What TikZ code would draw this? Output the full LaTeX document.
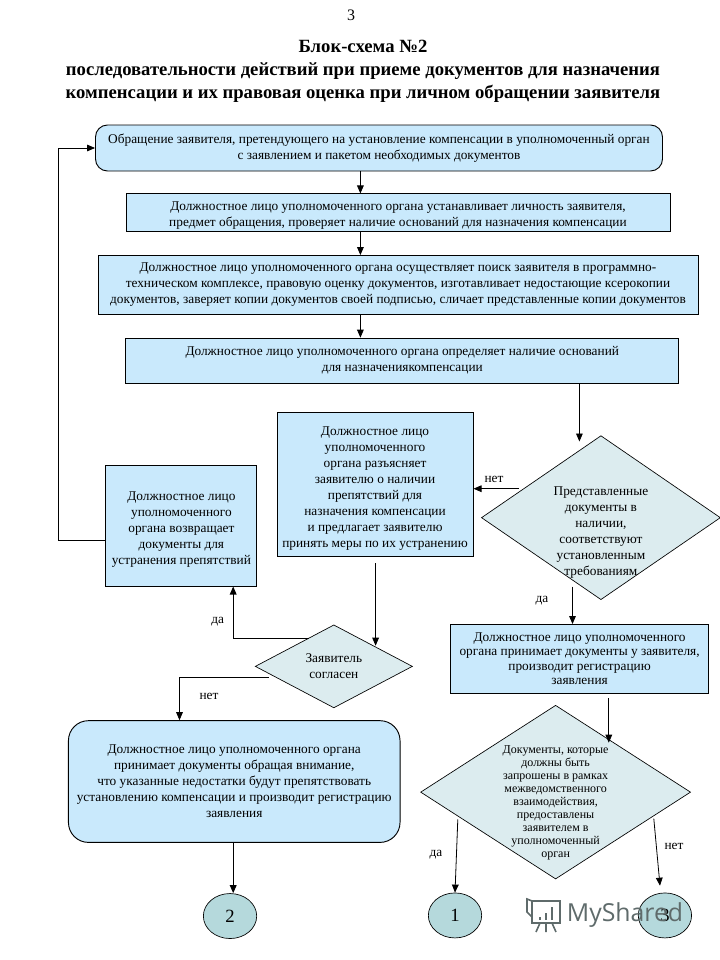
\documentclass[tikz,border=0pt]{standalone}
\usepackage{fontspec}
\setmainfont{Liberation Serif}
\newfontfamily\markfont{Open Sans}
\usetikzlibrary{shapes.geometric, arrows.meta, positioning}
\definecolor{boxblue}{HTML}{C9E9FC}
\definecolor{decgray}{HTML}{DCECEF}
\definecolor{circteal}{HTML}{B5D9DC}
\definecolor{markgray}{HTML}{5F6B6B}
\newcommand{\topgap}[1]{\rule{0pt}{#1}}

\begin{document}
\begin{tikzpicture}[x=0.75pt, y=-0.75pt,
	font=\fontsize{10}{12}\selectfont,
	block/.style = {rectangle, draw, fill=boxblue, align=center, inner sep=0pt, line width=0.7pt},
	round_block/.style = {block, rounded corners=9pt},
	diamond_dec/.style = {diamond, draw, fill=decgray, inner sep=0pt, line width=0.5pt},
	dec_text/.style = {align=center, inner sep=0pt},
	circ/.style = {ellipse, draw, fill=circteal, inner sep=0pt, minimum width=40pt, minimum height=33.75pt, font=\fontsize{14}{16}\selectfont, line width=0.5pt},
	line/.style = {-{Triangle[length=6pt, width=5pt]}, line width=0.6pt},
	lbl/.style = {inner sep=0pt}
	]
	\useasboundingbox (0,0) rectangle (720,960);

	% --- Titulo ---
	\node[lbl, font=\fontsize{12}{14}\selectfont] (page_num) at (351,15) {3};
	\node[align=center, inner sep=0pt, font=\fontsize{14}{17.25}\bfseries\selectfont] (title) at (363,71) {Блок-схема №2\\
		последовательности действий при приеме документов для назначения\\
		компенсации и их правовая оценка при личном обращении заявителя};

	% --- Fila superior ---
	\node[round_block, minimum width=425.25pt, minimum height=34.5pt] (appeal) at (379,148) {Обращение заявителя, претендующего на установление компенсации  в уполномоченный орган\\ с заявлением и пакетом необходимых документов};
	\node[block, minimum width=408pt, minimum height=28.5pt, below=16.5pt of appeal, xshift=14.25pt] (identify) {\topgap{10pt}Должностное лицо уполномоченного органа устанавливает личность заявителя,\\ предмет обращения, проверяет наличие оснований для назначения компенсации};
	\node[block, minimum width=450pt, minimum height=44.25pt, below=17pt of identify] (search) {Должностное лицо уполномоченного органа осуществляет поиск заявителя в программно-\\ техническом комплексе, правовую оценку документов, изготавливает недостающие ксерокопии\\ документов, заверяет копии документов своей подписью, сличает представленные копии документов};
	\node[block, minimum width=414.5pt, minimum height=33.75pt, below=17pt of search, xshift=3.2pt] (grounds) {Должностное лицо уполномоченного органа определяет наличие оснований\\ для назначениякомпенсации};

	% --- Fila intermedia ---
	\node[diamond_dec, minimum width=179.25pt, minimum height=123pt, below=38.8pt of grounds, xshift=149pt] (docs_check) {};
	\node[dec_text] (docs_text) at ([yshift=-11.25pt]docs_check.center) {Представленные\\ документы в\\ наличии,\\ соответствуют\\ установленным\\ требованиям};
	\node[block, minimum width=147pt, minimum height=107.6pt, left=5.7pt of docs_check, yshift=25pt] (explain) {\topgap{13pt}Должностное лицо\\ уполномоченного\\ органа разъясняет\\ заявителю о наличии\\ препятствий для\\ назначения компенсации\\ и предлагает  заявителю\\ принять меры по их устранению};
	\node[block, minimum width=113.25pt, minimum height=90.75pt, left=14.4pt of explain, yshift=-30.9pt] (give_back) {\topgap{13pt}Должностное лицо\\ уполномоченного\\ органа возвращает\\ документы для\\ устранения препятствий};
	\node[block, minimum width=193pt, minimum height=51.5pt, below=18pt of docs_check, xshift=-16pt, font=\fontsize{10}{10.8}\selectfont] (accept) {Должностное лицо уполномоченного\\ органа принимает документы у заявителя,\\ производит регистрацию\\ заявления};

	% --- Fila inferior ---
	\node[diamond_dec, minimum width=117.9pt, minimum height=62.25pt, below=51pt of explain, xshift=-30.9pt] (agree_check) {};
	\node[dec_text] (agree_text) at (agree_check.center) {Заявитель\\ согласен};
	\node[round_block, rounded corners=15pt, minimum width=248.7pt, minimum height=91.3pt, below=9pt of agree_check, xshift=-74.7pt] (warn) {Должностное лицо уполномоченного органа\\ принимает документы  обращая внимание,\\ что указанные недостатки будут  препятствовать\\ установлению компенсации и производит регистрацию\\ заявления};
	\node[diamond_dec, minimum width=202.5pt, minimum height=130.3pt, below=8.5pt of accept, xshift=-18pt] (inter_check) {};
	\node[dec_text, font=\fontsize{9}{9.75}\selectfont] (inter_text) at ([yshift=-8.25pt]inter_check.center) {Документы, которые\\ должны быть\\ запрошены в рамках\\ межведомственного\\ взаимодействия,\\ предоставлены\\ заявителем в\\ уполномоченный\\ орган};

	\node[circ, below=37.75pt of warn, xshift=-3.15pt] (circ_two) {2};
	\node[circ, below=9.95pt of inter_check, xshift=-75.45pt] (circ_one) {1};
	\node[circ, below=9.95pt of inter_check, xshift=82pt] (circ_three) {3};

	% --- Extremos libres ---
	\coordinate (spine) at (360.4,0);
	\coordinate (grounds_end) at (579.4,441.5);
	\coordinate (no_start) at (519,488.7);
	\coordinate (explain_start) at (375.6,563);
	\coordinate (agree_end) at (375.6,645.7);
	\coordinate (yes_start) at (308.5,638.7);
	\coordinate (yes_corner) at (233.2,638.7);
	\coordinate (no2_start) at (268.6,677);
	\coordinate (no2_corner) at (179.5,677);
	\coordinate (return_corner) at (58.3,540.7);
	\coordinate (docs_start) at (572.5,586.7);
	\coordinate (accept_start) at (608.8,698);
	\coordinate (inter_end) at (608.8,742.7);
	\coordinate (yes3_start) at (457.8,819.3);
	\coordinate (no3_start) at (653.8,818.7);
	\coordinate (no3_end) at (660,885.7);

	% --- Conexiones con flechas ---
	\draw[line] (appeal.south -| spine) -- (identify.north -| spine);
	\draw[line] (identify.south -| spine) -- (search.north -| spine);
	\draw[line] (search.south -| spine) -- (grounds.north -| spine);
	\draw[line] (grounds.south -| grounds_end) -- (grounds_end);
	\draw[line] (no_start) -- (no_start -| explain.east);
	\draw[line] (explain_start) -- (agree_end);
	\draw[line, line width=0.8pt] (yes_start) -- (yes_corner) -- (yes_corner |- give_back.south);
	\draw[line] (no2_start) -- (no2_corner) -- (no2_corner |- warn.north);
	\draw[line] (give_back.west |- return_corner) -- (return_corner) |- (appeal.west);
	\draw[line] (docs_start) -- (docs_start |- accept.north);
	\draw[line] (accept_start) -- (inter_end);
	\draw[line] (yes3_start) -- (circ_one.north);
	\draw[line] (no3_start) -- (no3_end);
	\draw[line, line width=0.8pt] (warn.south -| yes_corner) -- (circ_two.north -| yes_corner);

	% --- Etiquetas ---
	\node[lbl] (no_one) at (494,479) {нет};
	\node[lbl] (yes_one) at (542,600.7) {да};
	\node[lbl] (yes_two) at (217.6,622) {да};
	\node[lbl] (no_two) at (209,696) {нет};
	\node[lbl] (yes_three) at (436,854.7) {да};
	\node[lbl] (no_three) at (674,846) {нет};

	% --- Marca de agua ---
	\node[lbl, text=markgray, font=\fontsize{18.6}{22}\markfont\selectfont] (mark) at (625,915) {MyShared};
	\draw[markgray, line width=1.2pt] (532,901) rectangle (560,923);
	\draw[markgray, line width=1.2pt] (532,901) -- (527,899) -- (527,912) -- (532,917);
	\draw[markgray, line width=2pt] (540,920) -- (540,917) (546,920) -- (546,913) (552,920) -- (552,907);
	\draw[markgray, line width=1.2pt] (540,923) -- (536,932) (546,923) -- (546,932) (552,923) -- (556,932);
\end{tikzpicture}
\end{document}
